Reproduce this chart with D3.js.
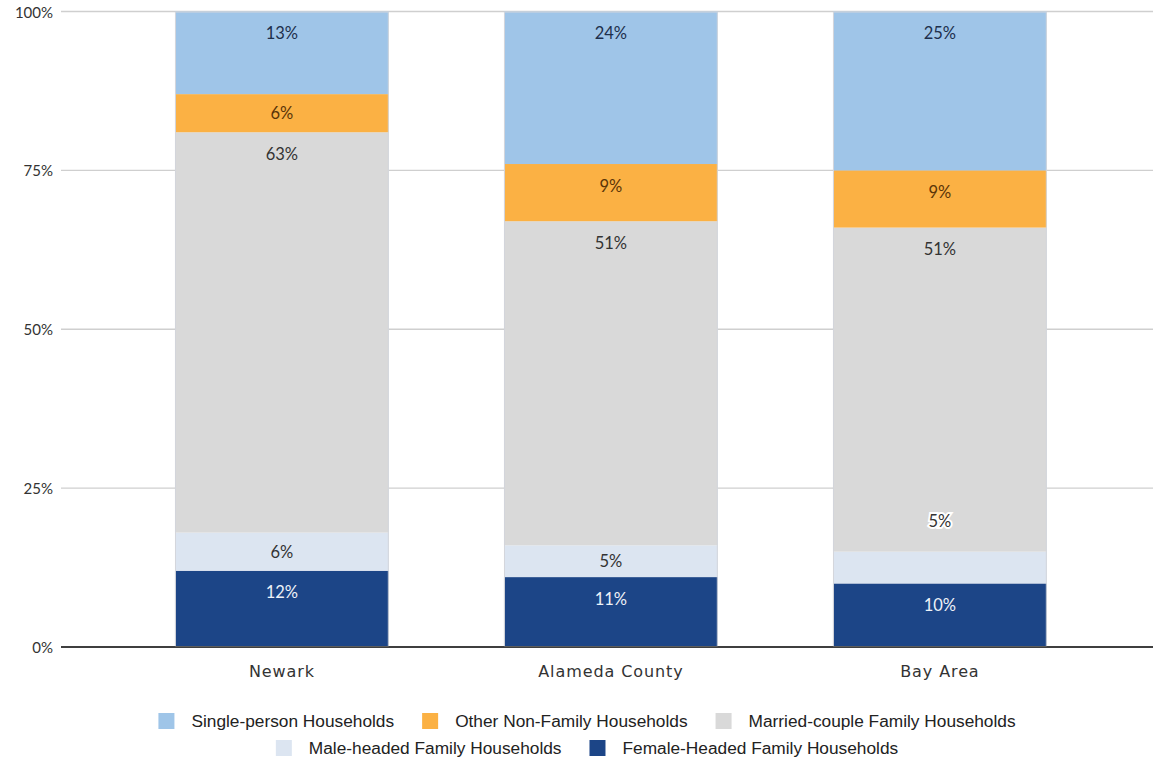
<!DOCTYPE html>
<html>
<head>
<meta charset="utf-8">
<script src="https://cdn.jsdelivr.net/npm/d3@7"></script>
<style>
  html, body { margin: 0; padding: 0; background: #fff; }
  svg { display: block; }
</style>
</head>
<body>
<svg id="chart" width="1153" height="765"></svg>
<script>
// Household composition by place, shares of all households
const categories = ["Newark", "Alameda County", "Bay Area"];
const seriesNames = [
  "Female-Headed Family Households",
  "Male-headed Family Households",
  "Married-couple Family Households",
  "Other Non-Family Households",
  "Single-person Households"
];
const femaleHeaded   = [12, 11, 10];
const maleHeaded     = [6, 5, 5];
const marriedCouple  = [63, 51, 51];
const otherNonFamily = [6, 9, 9];
const singlePerson   = [13, 24, 25];
const yTicks = [0, 25, 50, 75, 100];
const yTickLabels = ["0%", "25%", "50%", "75%", "100%"];
const legendRows = [
  ["Single-person Households", "Other Non-Family Households", "Married-couple Family Households"],
  ["Male-headed Family Households", "Female-Headed Family Households"]
];
// value labels that sit above their (thin) segment rather than inside it
const liftedLabels = [["Bay Area", "Male-headed Family Households"]];

const seriesValues = [femaleHeaded, maleHeaded, marriedCouple, otherNonFamily, singlePerson];
const colors = {
  "Single-person Households": "#9fc5e8",
  "Other Non-Family Households": "#fbb144",
  "Married-couple Family Households": "#d9d9d9",
  "Male-headed Family Households": "#dce5f1",
  "Female-Headed Family Households": "#1c4587"
};
const labelColors = {
  "Single-person Households": "#1d2f4c",
  "Other Non-Family Households": "#5a3508",
  "Married-couple Family Households": "#333333",
  "Male-headed Family Households": "#333333",
  "Female-Headed Family Households": "#eef2f8"
};

const rows = categories.map((c, i) => {
  const r = { category: c };
  seriesNames.forEach((s, k) => { r[s] = seriesValues[k][i]; });
  return r;
});
const stacked = d3.stack().keys(seriesNames)(rows);

const svg = d3.select("#chart");
const x = d3.scaleBand().domain(categories).range([117.4, 1104.4])
  .paddingInner(0.35).paddingOuter(0.175);
const y = d3.scaleLinear().domain([0, 100]).range([647, 11.5]);

// gridlines and y tick labels
const yAxis = svg.append("g").attr("class", "y-axis");
yAxis.selectAll("line").data(yTicks).join("line")
  .attr("x1", 61).attr("x2", 1153)
  .attr("y1", d => y(d)).attr("y2", d => y(d))
  .attr("stroke", d => d === 0 ? "#333" : "#cfcfcf")
  .attr("stroke-width", d => d === 0 ? 1.6 : 1.3);
yAxis.selectAll("text").data(yTicks).join("text")
  .attr("x", 53).attr("y", d => y(d))
  .attr("text-anchor", "end").attr("dominant-baseline", "central")
  .attr("font-family", "Lato, sans-serif").attr("font-size", 15)
  .attr("fill", "#333")
  .text((d, i) => yTickLabels[i]);

// stacked bars
const layers = svg.append("g").attr("class", "bars").selectAll("g")
  .data(stacked).join("g")
  .attr("fill", d => colors[d.key]);
layers.selectAll("rect").data(d => d.map(p => ({ key: d.key, p }))).join("rect")
  .attr("x", d => x(d.p.data.category))
  .attr("width", x.bandwidth())
  .attr("y", d => y(d.p[1]))
  .attr("height", d => y(d.p[0]) - y(d.p[1]));

// thin outline round each stack
svg.append("g").selectAll("rect").data(categories).join("rect")
  .attr("x", d => x(d) + 0.5).attr("width", x.bandwidth() - 1)
  .attr("y", y(100) + 0.5).attr("height", y(0) - y(100) - 1)
  .attr("fill", "none").attr("stroke", "#d3d6dc").attr("stroke-width", 1);

// baseline over the bars
svg.append("line").attr("x1", 61).attr("x2", 1153)
  .attr("y1", y(0)).attr("y2", y(0))
  .attr("stroke", "#333").attr("stroke-width", 1.6);

// value labels
const isLifted = (cat, key) => liftedLabels.some(l => l[0] === cat && l[1] === key);
const labelG = svg.append("g").attr("class", "value-labels");
stacked.forEach(layer => {
  layer.forEach(p => {
    const cat = p.data.category;
    const top = y(p[1]);
    const h = y(p[0]) - top;
    const lifted = isLifted(cat, layer.key);
    const cy = lifted ? top - 31 : top + Math.min(21.5, h / 2);
    labelG.append("text")
      .attr("x", x(cat) + x.bandwidth() / 2)
      .attr("y", cy)
      .attr("text-anchor", "middle").attr("dominant-baseline", "central")
      .attr("font-family", "Lato, sans-serif").attr("font-size", 16.5)
      .attr("fill", labelColors[layer.key])
      .attr("stroke", lifted ? "#fff" : "none")
      .attr("stroke-width", lifted ? 4 : 0)
      .attr("paint-order", "stroke")
      .text(p.data[layer.key] + "%");
  });
});

// category labels
svg.append("g").selectAll("text").data(categories).join("text")
  .attr("x", d => x(d) + x.bandwidth() / 2)
  .attr("y", 671)
  .attr("text-anchor", "middle").attr("dominant-baseline", "central")
  .attr("font-family", "'DejaVu Sans', sans-serif").attr("font-size", 16)
  .attr("letter-spacing", 0.9)
  .attr("fill", "#333")
  .text(d => d);

// legend, two centred rows
const legend = svg.append("g").attr("class", "legend");
const sw = 16, swGap = 17, itemGap = 28, legendCenter = 587;
const rowY = [721, 748];
legendRows.forEach((row, ri) => {
  const g = legend.append("g");
  let cx = 0;
  row.forEach(name => {
    g.append("rect").attr("x", cx).attr("y", rowY[ri] - sw / 2)
      .attr("width", sw).attr("height", sw).attr("fill", colors[name]);
    const t = g.append("text").attr("x", cx + sw + swGap).attr("y", rowY[ri])
      .attr("dominant-baseline", "central")
      .attr("font-family", "'Liberation Sans', Arial, sans-serif").attr("font-size", 17.3)
      .attr("fill", "#222").text(name);
    cx += sw + swGap + t.node().getComputedTextLength() + itemGap;
  });
  const total = cx - itemGap;
  g.attr("transform", `translate(${legendCenter - total / 2},0)`);
});
</script>
</body>
</html>
